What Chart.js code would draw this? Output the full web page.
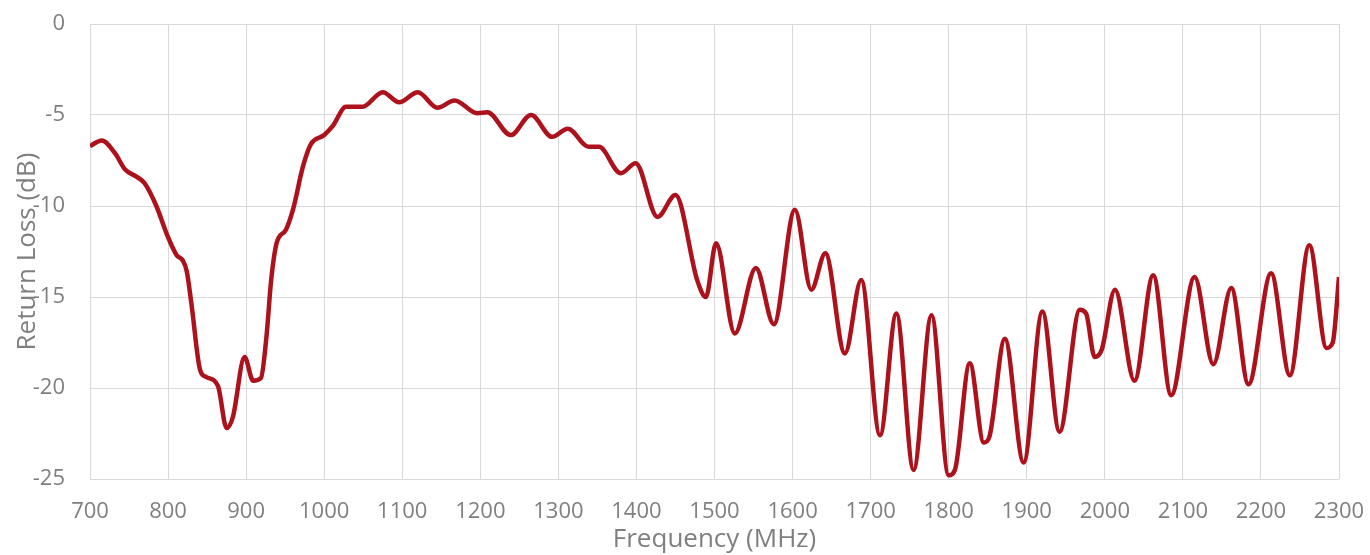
<!DOCTYPE html>
<html>
<head>
<meta charset="utf-8">
<script src="https://cdn.jsdelivr.net/npm/chart.js@4/dist/chart.umd.min.js"></script>
<style>
  body { margin: 0; background: #fff; }
</style>
</head>
<body>
<canvas id="chartRL" width="1370" height="555"></canvas>
<script>
// frequency (MHz) and return loss (dB)
const freq = [
  700, 715, 732, 745, 760, 770, 785, 798, 811, 819,
  824, 830, 841, 849, 864, 875, 883, 898, 909, 919,
  926, 932, 939, 951, 960, 973, 983, 1000, 1011, 1028,
  1049, 1075, 1096, 1120, 1145, 1167, 1196, 1209, 1239, 1265,
  1292, 1312, 1339, 1352, 1380, 1399, 1427, 1450, 1478, 1489,
  1502, 1526, 1553, 1576, 1603, 1624, 1642, 1667, 1688, 1712,
  1733, 1755, 1778, 1800, 1808, 1827, 1845, 1852, 1872, 1896,
  1920, 1942, 1968, 1976, 1987, 1996, 2013, 2038, 2062, 2085,
  2115, 2139, 2162, 2184, 2213, 2237, 2262, 2284, 2292, 2300
];
const returnLoss = [
  -6.7, -6.4, -7.1, -8.0, -8.4, -8.75, -10.0, -11.5, -12.7, -13.0,
  -13.6, -15.4, -19.0, -19.4, -19.9, -22.2, -21.6, -18.3, -19.6, -19.45,
  -17.2, -14.1, -12.05, -11.3, -10.2, -7.8, -6.6, -6.1, -5.6, -4.55,
  -4.55, -3.75, -4.3, -3.75, -4.6, -4.2, -4.9, -4.85, -6.1, -5.0,
  -6.2, -5.75, -6.75, -6.75, -8.2, -7.65, -10.6, -9.4, -14.1, -15.0,
  -12.05, -17.0, -13.4, -16.5, -10.2, -14.6, -12.6, -18.1, -14.07, -22.6,
  -15.9, -24.5, -16.0, -24.8, -24.5, -18.64, -23.0, -22.7, -17.3, -24.1,
  -15.8, -22.4, -15.7, -15.9, -18.3, -17.9, -14.6, -19.6, -13.8, -20.4,
  -13.9, -18.7, -14.5, -19.8, -13.7, -19.3, -12.15, -17.8, -17.5, -13.9
];

const textColor = '#7f7f7f';
const gridColor = '#d9d9d9';
const fontFamily = '"Open Sans", sans-serif';

const points = freq.map((f, i) => ({ x: f, y: returnLoss[i] }));

const configRL = {
  type: 'line',
  data: {
    datasets: [
      {
        label: 'Return Loss',
        data: points,
        borderColor: '#ad121c',
        borderWidth: 4.5,
        pointRadius: 0,
        fill: false,
        cubicInterpolationMode: 'monotone',
      },
    ],
  },
  options: {
    responsive: false,
    animation: false,
    layout: { padding: { top: 24, right: 31, left: 0, bottom: 0 } },
    plugins: {
      legend: { display: false },
      tooltip: { enabled: false },
    },
    scales: {
      x: {
        type: 'linear',
        min: 700,
        max: 2300,
        ticks: {
          stepSize: 100,
          color: textColor,
          font: { family: fontFamily, size: 22 },
          padding: 20,
          maxRotation: 0,
          callback: (v) => String(v),
        },
        grid: { color: gridColor, drawTicks: false },
        border: { display: false },
        title: {
          display: true,
          text: 'Frequency (MHz)',
          color: textColor,
          font: { family: fontFamily, size: 26 },
          padding: { top: 0, bottom: 0 },
        },
        afterFit: (scale) => {
          scale.height = 76;
          scale.paddingLeft = 0;
          scale.paddingRight = 0;
        },
      },
      y: {
        min: -25,
        max: 0,
        ticks: {
          stepSize: 5,
          color: textColor,
          font: { family: fontFamily, size: 22 },
          padding: 25,
          callback: (v) => String(v),
        },
        grid: { color: gridColor, drawTicks: false },
        border: { display: false },
        title: {
          display: true,
          text: 'Return Loss (dB)',
          color: textColor,
          font: { family: fontFamily, size: 26 },
          padding: { top: 12, bottom: 0 },
        },
        afterFit: (scale) => {
          scale.width = 90;
          scale.paddingTop = 0;
          scale.paddingBottom = 0;
        },
      },
    },
  },
};

const chartRL = new Chart(document.getElementById('chartRL'), configRL);
</script>
</body>
</html>
